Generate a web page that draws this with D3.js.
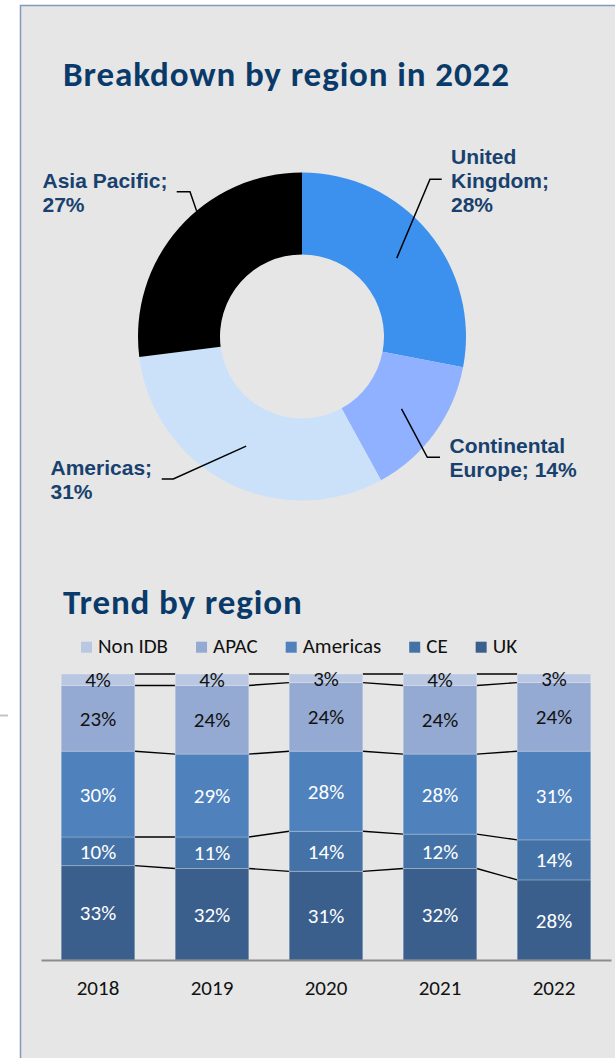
<!DOCTYPE html>
<html>
<head>
<meta charset="utf-8">
<script src="https://cdn.jsdelivr.net/npm/d3@7"></script>
<style>
  body { margin: 0; background: #ffffff; }
  svg { display: block; }
</style>
</head>
<body>
<svg id="chart" width="615" height="1058"></svg>
<script>
// donut: breakdown by region in 2022
var regions = ["United Kingdom", "Continental Europe", "Americas", "Asia Pacific"];
var share2022 = [28, 14, 31, 27];
var regionColors = ["#3d91ee", "#8fb1ff", "#cbe1f9", "#000000"];

// stacked bars: trend by region (stack order bottom -> top)
var years = ["2018", "2019", "2020", "2021", "2022"];
var seriesNames = ["UK", "CE", "Americas", "APAC", "Non IDB"];
var uk       = [33, 32, 31, 32, 28];
var ce       = [10, 11, 14, 12, 14];
var americas = [30, 29, 28, 28, 31];
var apac     = [23, 24, 24, 24, 24];
var nonIdb   = [4, 4, 3, 4, 3];
var seriesColors = ["#3b5f8d", "#4572a6", "#4f81bd", "#95aad2", "#b9c7e2"];
var labelColors  = ["#ffffff", "#ffffff", "#ffffff", "#111111", "#111111"];

document.addEventListener("DOMContentLoaded", function(event) {
  var svg = d3.select("#chart");
  var calibri = "Carlito, Calibri, Lato, sans-serif";
  var navy = "#0a3a69";

  // panel
  svg.append("rect")
    .attr("x", 20.5).attr("y", 5.5)
    .attr("width", 620).attr("height", 1080)
    .attr("fill", "#e6e6e6")
    .attr("stroke", "#8299bd")
    .attr("stroke-width", 1.5);
  svg.append("line")
    .attr("x1", 0).attr("x2", 8)
    .attr("y1", 715.5).attr("y2", 715.5)
    .attr("stroke", "#c4c4c4").attr("stroke-width", 2);

  // ---- Donut ----
  svg.append("text")
    .attr("x", 63).attr("y", 86)
    .style("font-family", calibri)
    .style("font-weight", "bold")
    .style("font-size", "35px")
    .style("letter-spacing", "0.9px")
    .attr("fill", navy)
    .text("Breakdown by region in 2022");

  var cx = 302, cy = 336.5, outerR = 164, innerR = 82;
  var midR = (outerR + innerR) / 2;

  var pie = d3.pie().sort(null).value(function(d) { return d.value; });
  var arcs = pie(regions.map(function(r, i) { return { name: r, value: share2022[i], color: regionColors[i] }; }));
  var arc = d3.arc().innerRadius(innerR).outerRadius(outerR);

  var donut = svg.append("g").attr("transform", "translate(" + cx + "," + cy + ")");
  donut.selectAll("path")
    .data(arcs)
    .enter().append("path")
    .attr("d", arc)
    .attr("fill", function(d) { return d.data.color; });

  // label layout: text position, stub start/elbow, where the leader meets the slice
  var labelLayout = [
    { x: 451, y: 163.5, lineH: 24.2, words: [1, 1, 1], stub: [[441.7, 179.3], [430, 179.3]], anchor: "mid" },
    { x: 449.5, y: 453.3, lineH: 24, words: [1, 2], stub: [[440, 457.3], [427.3, 457.3]], anchor: "mid" },
    { x: 50.5, y: 475, lineH: 23.5, words: [1, 1], stub: [[161.7, 479], [173.3, 479]], anchor: "mid" },
    { x: 42.5, y: 187.7, lineH: 24, words: [2, 1], stub: [[176.7, 191.7], [190, 191.7]], anchor: { deg: 320, r: outerR } }
  ];

  function polar(angle, r) {
    return [cx + r * Math.sin(angle), cy - r * Math.cos(angle)];
  }

  arcs.forEach(function(a, i) {
    var lay = labelLayout[i];
    var words = (a.data.name + "; " + a.data.value + "%").split(" ");
    var lines = [], k = 0;
    lay.words.forEach(function(n) { lines.push(words.slice(k, k + n).join(" ")); k += n; });

    var t = svg.append("text")
      .attr("x", lay.x).attr("y", lay.y)
      .style("font-family", "Liberation Sans, Arial, sans-serif")
      .style("font-weight", "bold")
      .style("font-size", "21px")
      .attr("fill", "#18416e");
    lines.forEach(function(l, j) {
      t.append("tspan").attr("x", lay.x).attr("y", lay.y + j * lay.lineH).text(l);
    });

    var end = lay.anchor === "mid"
      ? polar((a.startAngle + a.endAngle) / 2, midR)
      : polar(lay.anchor.deg * Math.PI / 180, lay.anchor.r);
    svg.append("path")
      .attr("d", d3.line()([lay.stub[0], lay.stub[1], end]))
      .attr("fill", "none")
      .attr("stroke", "#000")
      .attr("stroke-width", 1.5);
  });

  // ---- Stacked bars ----
  svg.append("text")
    .attr("x", 63).attr("y", 614.3)
    .style("font-family", calibri)
    .style("font-weight", "bold")
    .style("font-size", "35px")
    .style("letter-spacing", "0.9px")
    .attr("fill", navy)
    .text("Trend by region");

  var valuesBySeries = [uk, ce, americas, apac, nonIdb];
  var table = years.map(function(y, i) {
    var row = { year: y };
    seriesNames.forEach(function(s, j) { row[s] = valuesBySeries[j][i]; });
    return row;
  });
  var stacked = d3.stack().keys(seriesNames)(table);

  var x = d3.scaleBand().domain(years).range([41, 611]).paddingInner(0.355).paddingOuter(0.1775);
  var y = d3.scaleLinear().domain([0, 100]).range([960, 674]);
  var bw = x.bandwidth();

  // series lines
  stacked.forEach(function(layer) {
    for (var i = 0; i < years.length - 1; i++) {
      svg.append("line")
        .attr("x1", x(years[i]) + bw).attr("y1", y(layer[i][1]))
        .attr("x2", x(years[i + 1])).attr("y2", y(layer[i + 1][1]))
        .attr("stroke", "#000").attr("stroke-width", 1.4);
    }
  });

  var layers = svg.selectAll("g.layer")
    .data(stacked)
    .enter().append("g")
    .attr("class", "layer");

  layers.selectAll("rect")
    .data(function(d) { return d.map(function(p) { return { p: p, key: d.key, idx: d.index }; }); })
    .enter().append("rect")
    .attr("x", function(d) { return x(d.p.data.year); })
    .attr("y", function(d) { return y(d.p[1]); })
    .attr("width", bw)
    .attr("height", function(d) { return y(d.p[0]) - y(d.p[1]); })
    .attr("fill", function(d) { return seriesColors[d.idx]; })
    .attr("stroke", "rgba(255,255,255,0.22)")
    .attr("stroke-width", 1);

  layers.selectAll("text")
    .data(function(d) { return d.map(function(p) { return { p: p, key: d.key, idx: d.index }; }); })
    .enter().append("text")
    .attr("x", function(d) { return x(d.p.data.year) + bw / 2; })
    .attr("y", function(d) { return (y(d.p[0]) + y(d.p[1])) / 2; })
    .attr("dy", "0.36em")
    .attr("text-anchor", "middle")
    .style("font-family", calibri)
    .style("font-size", "21px")
    .attr("fill", function(d) { return labelColors[d.idx]; })
    .text(function(d) { return (d.p[1] - d.p[0]) + "%"; });

  // x axis
  var axis = svg.append("g")
    .attr("transform", "translate(0,960)")
    .call(d3.axisBottom(x).tickSize(0).tickSizeOuter(0));
  axis.select(".domain").attr("stroke", "#8c8c8c").attr("stroke-width", 2);
  axis.selectAll("text")
    .attr("y", 35).attr("dy", 0)
    .style("font-family", calibri)
    .style("font-size", "21px")
    .attr("fill", "#111");

  // legend (reverse stack order)
  var legend = svg.append("g");
  var lx = 81;
  seriesNames.slice().reverse().forEach(function(s) {
    var j = seriesNames.indexOf(s);
    legend.append("rect")
      .attr("x", lx).attr("y", 641.7)
      .attr("width", 11).attr("height", 11)
      .attr("fill", seriesColors[j]);
    var t = legend.append("text")
      .attr("x", lx + 17).attr("y", 652.7)
      .style("font-family", calibri)
      .style("font-size", "21px")
      .attr("fill", "#111")
      .text(s);
    lx += 17 + t.node().getComputedTextLength() + 28;
  });
});
</script>
</body>
</html>
